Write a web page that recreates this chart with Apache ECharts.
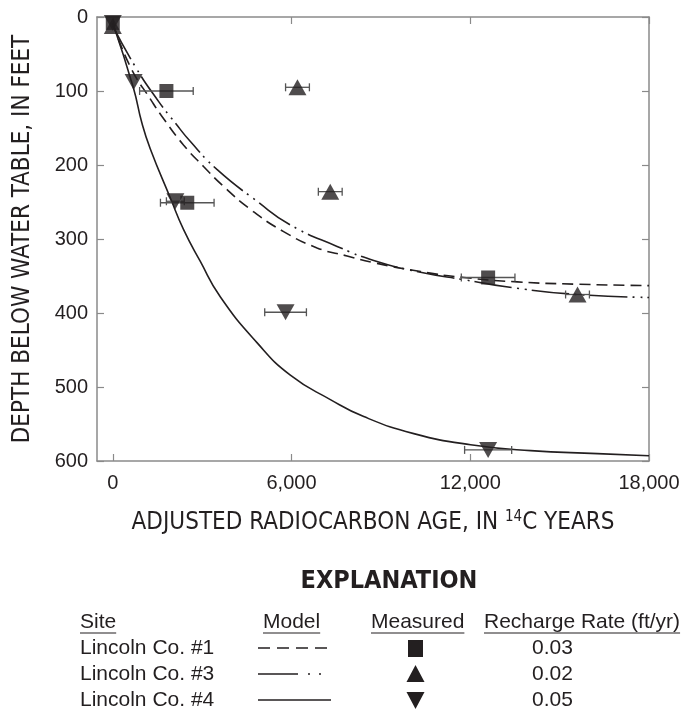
<!DOCTYPE html>
<html>
<head>
<meta charset="utf-8">
<script src="https://cdn.jsdelivr.net/npm/echarts@6/dist/echarts.min.js"></script>
<style>
  html, body { margin: 0; padding: 0; background: #fff; }
  #chart { width: 686px; height: 719px; }
</style>
</head>
<body>
<div id="chart"></div>
<script>
// Lincoln Co. #1 (squares)
const sqAge = [0, 1800, 2500, 12600];
const sqDepth = [8, 100, 251, 352];
const sqErr = [0, 900, 900, 900];

// Lincoln Co. #3 (triangles up)
const upAge = [0, 6200, 7300, 15600];
const upDepth = [12, 95, 236, 375];
const upErr = [0, 400, 400, 400];

// Lincoln Co. #4 (triangles down)
const dnAge = [0, 700, 2100, 5800, 12600];
const dnDepth = [8, 88, 249, 399, 585];
const dnErr = [0, 0, 300, 700, 790];

// model curves
const m1Age = [0, 585, 1311, 1646, 2373, 3046, 3720, 4622, 5734, 6857, 7866, 8760, 10330, 11785, 13580, 15500, 18000];
const m1Depth = [8, 67, 114, 134, 173, 202, 229, 260, 290, 312, 323, 332, 344, 352, 358, 361, 363];

const m3Age = [0, 753, 1535, 2094, 2598, 3496, 4840, 5960, 7529, 8760, 10330, 11785, 13466, 15594, 18000];
const m3Depth = [12, 67, 114, 143, 168, 206, 249, 281, 310, 329, 345, 355, 366, 375, 379];

const m4Age = [0, 693, 975, 1257, 1926, 2373, 2934, 3607, 4840, 5960, 7304, 8424, 10104, 12010, 14027, 16268, 18000];
const m4Depth = [8, 96, 143, 178, 244, 287, 330, 378, 440, 484, 517, 540, 563, 578, 586, 590, 593];

const xTicks = [0, 6000, 12000, 18000];

const ink = '#231f20';
const axisGrey = '#8a8a8a';
const dashDot = [38, 5, 2, 6, 2, 5];
const condensed = 'Liberation Sans Narrow, DejaVu Sans Condensed, sans-serif';

const zip = (a, b) => a.map((v, i) => [v, b[i]]);
const errData = (age, depth, err) =>
  age.map((v, i) => [v - err[i], v + err[i], depth[i]]).filter((d, i) => err[i] > 0);

function renderErr(params, api) {
  const lo = api.coord([api.value(0), api.value(2)]);
  const hi = api.coord([api.value(1), api.value(2)]);
  const st = { stroke: '#555', lineWidth: 1.3 };
  return {
    type: 'group',
    children: [
      { type: 'line', shape: { x1: lo[0], y1: lo[1], x2: hi[0], y2: hi[1] }, style: st },
      { type: 'line', shape: { x1: lo[0], y1: lo[1] - 4, x2: lo[0], y2: lo[1] + 4 }, style: st },
      { type: 'line', shape: { x1: hi[0], y1: hi[1] - 4, x2: hi[0], y2: hi[1] + 4 }, style: st }
    ]
  };
}

const ctx = document.createElement('canvas').getContext('2d');
function textW(s, font) { ctx.font = font; return ctx.measureText(s).width; }

const tableFont = 'Liberation Sans, Arial, sans-serif';
const tfs = 21;
const headers = [['Site', 80], ['Model', 263], ['Measured', 371], ['Recharge Rate (ft/yr)', 484]];
const sites = ['Lincoln Co. #1', 'Lincoln Co. #3', 'Lincoln Co. #4'];
const rates = ['0.03', '0.02', '0.05'];
const rowY = [648, 674, 700];

const graphics = [
  { type: 'text', x: 389, y: 581, style: { text: 'EXPLANATION', fontFamily: condensed, fontWeight: 'bold', fontSize: 25, fill: ink, align: 'center', verticalAlign: 'middle' } }
];
headers.forEach(([t, x]) => {
  graphics.push({ type: 'text', x: x, y: 622, style: { text: t, fontFamily: tableFont, fontSize: tfs, fill: ink, align: 'left', verticalAlign: 'middle' } });
  const w = textW(t, tfs + 'px Liberation Sans');
  graphics.push({ type: 'line', shape: { x1: x, y1: 633, x2: x + w, y2: 633 }, style: { stroke: ink, lineWidth: 1.2 } });
});
sites.forEach((s, i) => {
  graphics.push({ type: 'text', x: 80, y: rowY[i], style: { text: s, fontFamily: tableFont, fontSize: tfs, fill: ink, align: 'left', verticalAlign: 'middle' } });
  graphics.push({ type: 'text', x: 532, y: rowY[i], style: { text: rates[i], fontFamily: tableFont, fontSize: tfs, fill: ink, align: 'left', verticalAlign: 'middle' } });
});
graphics.push({ type: 'line', shape: { x1: 258, y1: rowY[0], x2: 327, y2: rowY[0] }, style: { stroke: ink, lineWidth: 1.6, lineDash: [12, 7] } });
graphics.push({ type: 'line', shape: { x1: 258, y1: rowY[1], x2: 322, y2: rowY[1] }, style: { stroke: ink, lineWidth: 1.6, lineDash: [40, 10, 2, 9, 2, 20] } });
graphics.push({ type: 'line', shape: { x1: 258, y1: rowY[2], x2: 331, y2: rowY[2] }, style: { stroke: ink, lineWidth: 1.6 } });
graphics.push({ type: 'rect', shape: { x: 408, y: rowY[0] - 8, width: 15, height: 17 }, style: { fill: ink } });
graphics.push({ type: 'polygon', shape: { points: [[415.5, rowY[1] - 9], [424.5, rowY[1] + 8], [406.5, rowY[1] + 8]] }, style: { fill: ink } });
graphics.push({ type: 'polygon', shape: { points: [[415.5, rowY[2] + 9], [424.5, rowY[2] - 8], [406.5, rowY[2] - 8]] }, style: { fill: ink } });

const baseX = {
  type: 'value', min: -530, max: 18000,
  axisLine: { show: true, onZero: false, lineStyle: { color: axisGrey, width: 1.5 } },
  axisTick: { show: true, inside: true, length: 7, customValues: xTicks, lineStyle: { color: axisGrey, width: 1.2 } },
  splitLine: { show: false }
};
const baseY = {
  type: 'value', min: 0, max: 600, interval: 100, inverse: true,
  axisLine: { show: true, onZero: false, lineStyle: { color: axisGrey, width: 1.5 } },
  axisTick: { show: true, inside: true, length: 7, lineStyle: { color: axisGrey, width: 1.2 } },
  splitLine: { show: false }
};

const myChart = echarts.init(document.getElementById('chart'));
myChart.setOption({
  animation: false,
  textStyle: { fontFamily: 'Liberation Sans, Arial, sans-serif' },
  grid: { left: 97, right: 37, top: 17, bottom: 258, outerBoundsMode: 'none' },
  xAxis: [
    Object.assign({}, baseX, {
      position: 'bottom',
      axisLabel: {
        customValues: xTicks, color: ink, fontSize: 20, margin: 12,
        formatter: v => v.toLocaleString('en-US')
      },
      name: '{t|ADJUSTED RADIOCARBON AGE, IN }{sup|14}{t|C YEARS}',
      nameLocation: 'middle',
      nameGap: 49,
      nameTextStyle: {
        rich: {
          t: { fontFamily: condensed, fontSize: 24, color: ink },
          sup: { fontFamily: condensed, fontSize: 15, color: ink, padding: [0, 0, 11, 0] }
        }
      }
    }),
    Object.assign({}, baseX, { position: 'top', axisLabel: { show: false } })
  ],
  yAxis: [
    Object.assign({}, baseY, {
      position: 'left',
      axisLabel: { color: ink, fontSize: 20, margin: 9 },
      name: 'DEPTH BELOW WATER TABLE, IN FEET',
      nameLocation: 'middle',
      nameGap: 62,
      nameTextStyle: { fontFamily: condensed, fontSize: 24, color: ink }
    }),
    Object.assign({}, baseY, { position: 'right', axisLabel: { show: false } })
  ],
  series: [
    { type: 'line', data: zip(m1Age, m1Depth), smooth: true, symbol: 'none', lineStyle: { color: ink, width: 1.6, type: [11, 6] }, z: 2 },
    { type: 'line', data: zip(m3Age, m3Depth), smooth: true, symbol: 'none', lineStyle: { color: ink, width: 1.6, type: dashDot }, z: 2 },
    { type: 'line', data: zip(m4Age, m4Depth), smooth: true, symbol: 'none', lineStyle: { color: ink, width: 1.6 }, z: 2 },
    { type: 'custom', renderItem: renderErr, data: errData(sqAge, sqDepth, sqErr), encode: { x: [0, 1], y: 2 }, z: 3 },
    { type: 'custom', renderItem: renderErr, data: errData(upAge, upDepth, upErr), encode: { x: [0, 1], y: 2 }, z: 3 },
    { type: 'custom', renderItem: renderErr, data: errData(dnAge, dnDepth, dnErr), encode: { x: [0, 1], y: 2 }, z: 3 },
    { type: 'scatter', data: zip(dnAge, dnDepth), symbol: 'triangle', symbolRotate: 180, symbolSize: [18, 16], itemStyle: { color: ink }, z: 4 },
    { type: 'scatter', data: zip(upAge, upDepth), symbol: 'triangle', symbolSize: [18, 16], itemStyle: { color: ink }, z: 5 },
    { type: 'scatter', data: zip(sqAge, sqDepth), symbol: 'rect', symbolSize: 14, itemStyle: { color: ink }, z: 6 }
  ],
  graphic: graphics
});
window.onresize = function () {
  myChart.resize();
};
</script>
</body>
</html>
